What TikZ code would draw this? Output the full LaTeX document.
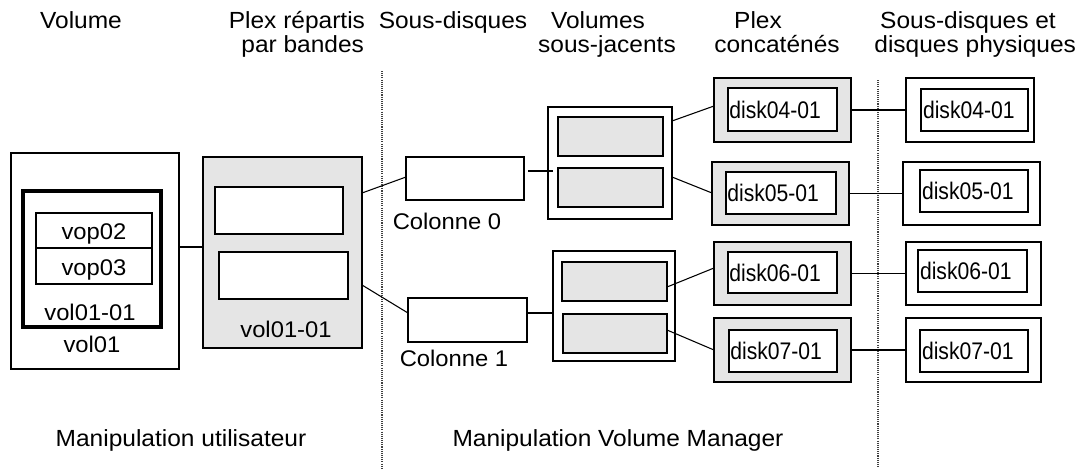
\documentclass[tikz,border=0pt]{standalone}
\usepackage{fontspec}
\setmainfont{Liberation Sans}[FakeStretch=1.05]
\newfontfamily\diskfont{Liberation Sans}[FakeStretch=0.88]
\usetikzlibrary{fit}
\definecolor{lgrey}{RGB}{229,229,229}
\begin{document}
\begin{tikzpicture}[x=0.75pt,y=-0.75pt,
  font=\fontsize{17}{20}\selectfont,
  box/.style={draw=black, rectangle, inner sep=0pt, outer sep=0pt},
  thinbox/.style={box, line width=1.1pt, fill=white},
  midbox/.style={box, line width=1.5pt, fill=white},
  greybox/.style={box, line width=1.9pt, fill=lgrey},
  heavybox/.style={box, line width=1.9pt, fill=white},
  vsinner/.style={box, line width=2.2pt, fill=lgrey},
  txt/.style={inner sep=0pt, outer sep=0pt, text depth=0pt},
  disktxt/.style={txt, anchor=west, font=\diskfont\fontsize{18}{21}\selectfont},
  title/.style={inner sep=0pt, outer sep=0pt, anchor=base, font=\fontsize{17.5}{21}\selectfont},
  conn/.style={draw=black, line width=0.8pt},
  thickconn/.style={draw=black, line width=1.5pt},
  sep/.style={draw=black!75, line width=0.8pt, dash pattern=on 0.8pt off 0.8pt}
]
\clip (0,0) rectangle (1078,468);

% titles
\node[title] (t1) at (81,28) {Volume};
\node[title, anchor=base east] (t2a) at (365,28) {Plex répartis};
\node[title, anchor=base east] (t2b) at (364,52) {par bandes};
\node[title] (t3) at (453,28) {Sous-disques};
\node[title] (t4a) at (598,28) {Volumes};
\node[title] (t4b) at (607,52) {sous-jacents};
\node[title] (t5a) at (758,28) {Plex};
\node[title] (t5b) at (777,52) {concaténés};
\node[title] (t6a) at (968,28) {Sous-disques et};
\node[title, anchor=base east] (t6b) at (1076,52) {disques physiques};

% separators
\coordinate (s1t) at (382,71);
\coordinate (s1b) at (382,468);
\coordinate (s2t) at (878,80);
\coordinate (s2b) at (878,468);
\draw[sep] (s1t) -- (s1b);
\draw[sep] (s2t) -- (s2b);

% volume
\node[midbox, fit={(11,153) (179,369)}] (vol01) {};
\node[box, line width=2.6pt, fit={(23,191) (161,327)}] (vol0101) {};
\node[midbox, fit={(36,213) (152,248)}] (vop02) {};
\node[midbox, fit={(36,248) (152,284)}] (vop03) {};
\node[txt] (lvop02) at ([yshift=-1pt]vop02.center) {vop02};
\node[txt] (lvop03) at ([yshift=-1pt]vop03.center) {vop03};
\node[txt] (lvol0101) at (90,312) {vol01-01};
\node[txt] (lvol01) at (92,344) {vol01};

% striped plex
\node[greybox, line width=1.8pt, fit={(203,157) (362,348)}] (plex) {};
\node[thinbox, fit={(215,187) (343,234)}] (pin1) {};
\node[thinbox, fit={(219,252) (348,299)}] (pin2) {};
\node[txt] (lplex) at (286,329) {vol01-01};

% columns
\node[thinbox, fit={(406,157) (524,200)}] (col0) {};
\node[txt] (lcol0) at (447,221) {Colonne 0};
\node[thinbox, fit={(408,298) (527,342)}] (col1) {};
\node[txt] (lcol1) at (454,358) {Colonne 1};

% underlying volumes
\node[heavybox, fit={(548,107) (672,219)}] (vs1) {};
\node[vsinner, fit={(558,117) (663,156)}] (vs1a) {};
\node[vsinner, fit={(558,168) (663,207)}] (vs1b) {};
\node[heavybox, fit={(553,251) (675,361)}] (vs2) {};
\node[vsinner, fit={(562,262) (667,301)}] (vs2a) {};
\node[vsinner, fit={(563,314) (667,353)}] (vs2b) {};

% concatenated plexes
\node[greybox, fit={(714,78) (851,142)}] (d4) {};
\node[heavybox, fit={(728,88) (837,131)}] (d4i) {};
\node[disktxt] (ld4) at ([xshift=1pt]d4i.west) {disk04-01};
\node[greybox, fit={(712,162) (849,225)}] (d5) {};
\node[heavybox, fit={(726,172) (836,214)}] (d5i) {};
\node[disktxt] (ld5) at ([xshift=1pt]d5i.west) {disk05-01};
\node[greybox, fit={(714,242) (851,305)}] (d6) {};
\node[heavybox, fit={(728,252) (837,293)}] (d6i) {};
\node[disktxt] (ld6) at ([xshift=1pt]d6i.west) {disk06-01};
\node[greybox, fit={(714,318) (851,382)}] (d7) {};
\node[heavybox, fit={(729,330) (837,372)}] (d7i) {};
\node[disktxt] (ld7) at ([xshift=1pt]d7i.west) {disk07-01};

% physical disks
\node[heavybox, fit={(906,78) (1034,142)}] (r4) {};
\node[heavybox, fit={(921,89) (1028,131)}] (r4i) {};
\node[disktxt] (lr4) at ([xshift=1.5pt]r4i.west) {disk04-01};
\node[heavybox, fit={(903,162) (1040,225)}] (r5) {};
\node[heavybox, fit={(920,170) (1028,212)}] (r5i) {};
\node[disktxt] (lr5) at ([xshift=1.5pt]r5i.west) {disk05-01};
\node[heavybox, fit={(906,242) (1041,305)}] (r6) {};
\node[heavybox, fit={(918,250) (1027,292)}] (r6i) {};
\node[disktxt] (lr6) at ([xshift=1.5pt]r6i.west) {disk06-01};
\node[heavybox, fit={(906,318) (1041,382)}] (r7) {};
\node[heavybox, fit={(920,330) (1028,372)}] (r7i) {};
\node[disktxt] (lr7) at ([xshift=1.5pt]r7i.west) {disk07-01};

% bottom labels
\node[title] (b1) at (181,446) {Manipulation utilisateur};
\node[title] (b2) at (618,446) {Manipulation Volume Manager};

% connectors
\draw[conn] (vol01.east |- 0,247) -- (plex.west |- 0,247);
\draw[conn] (plex.east |- 0,193) -- (col0.west |- 0,177);
\draw[conn] (plex.east |- 0,285) -- (col1.west |- 0,313);
\draw[thickconn] ([xshift=3pt]col0.east |- 0,171) -- ([xshift=4pt]vs1.west |- 0,171);
\draw[thickconn] (col1.east |- 0,313) -- (vs2.west |- 0,313);
\draw[conn] (vs1.east |- 0,121) -- (d4.west |- 0,106);
\draw[conn] (vs1.east |- 0,177) -- (d5.west |- 0,193);
\draw[conn] (vs2a.east |- 0,287) -- (d6.west |- 0,268);
\draw[conn] (vs2b.east |- 0,330) -- (d7.west |- 0,350);
\draw[conn] (d4.east) -- (r4.west |- d4.east);
\draw[conn] (d5.east) -- (r5.west |- d5.east);
\draw[conn] (d6.east) -- (r6.west |- d6.east);
\draw[conn] (d7.east) -- (r7.west |- d7.east);
\end{tikzpicture}
\end{document}
